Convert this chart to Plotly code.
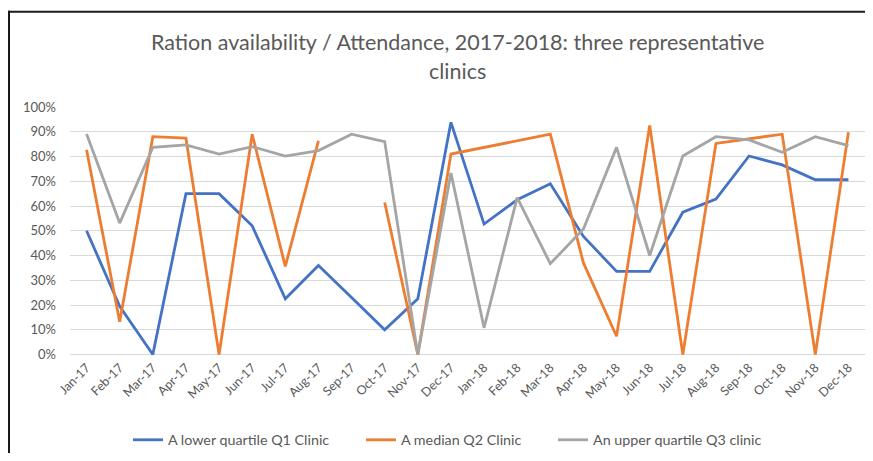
import plotly.graph_objects as go

months = ["Jan-17", "Feb-17", "Mar-17", "Apr-17", "May-17", "Jun-17", "Jul-17", "Aug-17",
          "Sep-17", "Oct-17", "Nov-17", "Dec-17", "Jan-18", "Feb-18", "Mar-18", "Apr-18",
          "May-18", "Jun-18", "Jul-18", "Aug-18", "Sep-18", "Oct-18", "Nov-18", "Dec-18"]

q1_lower = [0.50, 0.195, 0.0, 0.65, 0.65, 0.52, 0.225, 0.36, 0.23, 0.10, 0.225, 0.938,
            0.527, 0.625, 0.69, 0.477, 0.336, 0.336, 0.575, 0.628, 0.802, 0.766, 0.706, 0.706]
q2_median = [0.827, 0.132, 0.88, 0.874, 0.0, 0.89, 0.356, 0.863, None, 0.614, 0.0, 0.81,
             0.837, 0.863, 0.89, 0.37, 0.074, 0.925, 0.0, 0.853, 0.872, 0.89, 0.0, 0.898]
q3_upper = [0.891, 0.531, 0.837, 0.847, 0.81, 0.84, 0.802, 0.824, 0.89, 0.86, 0.0, 0.733,
            0.108, 0.634, 0.367, 0.507, 0.837, 0.40, 0.802, 0.88, 0.867, 0.817, 0.88, 0.844]

names = ["A lower quartile Q1 Clinic", "A median Q2 Clinic", "An upper quartile Q3 clinic"]
colors = ["#4472C4", "#ED7D31", "#A5A5A5"]
legend_ids = ["legend", "legend2", "legend3"]
legend_left_px = [128, 361, 553]

OFF = 8  # page body margin offset
W, H = 873 - 2 * OFF, 461 - 2 * OFF
L = 70 - OFF
R = W - (865 - OFF)
T = 107 - OFF
B = H - (357.5 - OFF)
ph = H - T - B
pw = W - L - R

def px_x(p):
    return (p - OFF - L) / pw

def px_y(p):
    return (H - B - (p - OFF)) / ph

fig = go.Figure()
for name, vals, col, lg in zip(names, [q1_lower, q2_median, q3_upper], colors, legend_ids):
    fig.add_trace(go.Scatter(x=months, y=vals, mode="lines", name=name, legend=lg,
                             line=dict(color=col, width=2.8), connectgaps=False))

FONT = "Lato, Carlito, Liberation Sans, sans-serif"
TXT = "#595959"

legends = {}
for lg, lx in zip(legend_ids, legend_left_px):
    legends[lg] = dict(orientation="h", xref="container", yref="container",
                       x=(lx - OFF) / W, xanchor="left", y=1 - (440 - OFF) / H,
                       yanchor="middle", font=dict(size=14.3, color=TXT),
                       itemwidth=30, bgcolor="rgba(0,0,0,0)")

fig.update_layout(
    width=W, height=H,
    margin=dict(l=L, r=R, t=T, b=B, pad=0, autoexpand=False),
    paper_bgcolor="white", plot_bgcolor="white",
    font=dict(family=FONT, color=TXT, size=13),
    showlegend=True,
    **legends,
    xaxis=dict(type="category", categoryorder="array", categoryarray=months,
               showgrid=False, showline=False, zeroline=False, tickangle=-45,
               ticks="", tickfont=dict(size=12.5, color=TXT), automargin=False,
               range=[-0.5, 23.5]),
    yaxis=dict(range=[-0.01, 1.0], dtick=0.1, tick0=0, tickformat=".0%",
               showgrid=True, gridcolor="#D9D9D9", gridwidth=1.3, zeroline=False,
               showline=False, ticks="", ticklabelstandoff=13,
               tickfont=dict(size=13, color=TXT), automargin=False),
    annotations=[
        dict(text="Ration availability / Attendance, 2017-2018: three representative",
             xref="paper", yref="paper", x=px_x(457), y=px_y(42), xanchor="center",
             yanchor="middle", showarrow=False, font=dict(size=21.5, color=TXT, family=FONT)),
        dict(text="clinics", xref="paper", yref="paper", x=px_x(457), y=px_y(71),
             xanchor="center", yanchor="middle", showarrow=False,
             font=dict(size=21.5, color=TXT, family=FONT)),
    ],
    shapes=[
        dict(type="line", xref="paper", yref="paper",
             x0=px_x(8), x1=px_x(900), y0=px_y(11.5), y1=px_y(11.5),
             line=dict(color="#1a1a1a", width=2), layer="above"),
        dict(type="line", xref="paper", yref="paper",
             x0=px_x(9), x1=px_x(9), y0=px_y(10.5), y1=px_y(500),
             line=dict(color="#1a1a1a", width=2), layer="above"),
    ],
)

fig.write_html("out.html")
